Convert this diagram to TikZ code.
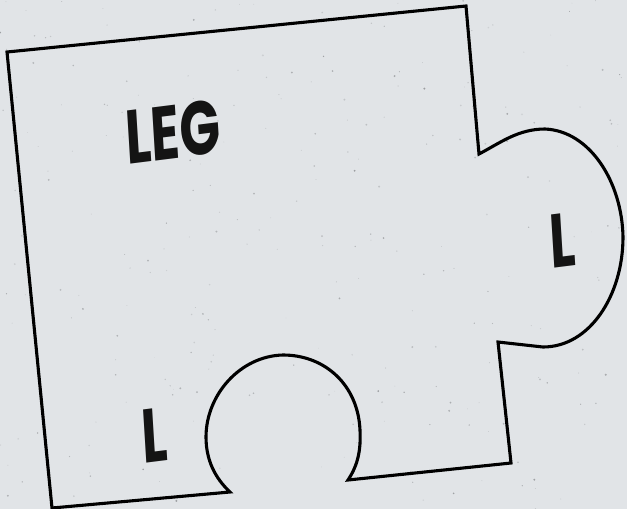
\documentclass[tikz,border=0pt]{standalone}
\usepackage{fontspec}
\newfontfamily\hand{Poppins}
\definecolor{paper}{RGB}{225,228,231}
\definecolor{speck}{RGB}{110,112,115}
\tikzset{
  piece/.style={draw=black, line width=3.1pt, line join=miter},
  lbl/.style={font=\hand\bfseries\fontsize{76}{76}\selectfont, inner sep=0pt, xscale=0.7, rotate=5, text=black!92}
}
\begin{document}
\begin{tikzpicture}[x=1pt,y=-1pt]
\fill[paper] (0,0) rectangle (627,509);
\useasboundingbox (0,0) rectangle (627,509);
% paper specks
\pgfmathsetseed{11}
\foreach \i in {1,...,260}{
  \pgfmathsetmacro{\px}{rnd*627}
  \pgfmathsetmacro{\py}{rnd*509}
  \pgfmathsetmacro{\pr}{0.3+rnd*0.8}
  \pgfmathsetmacro{\po}{0.15+rnd*0.45}
  \fill[speck, opacity=\po] (\px,\py) circle[radius=\pr];
}
% puzzle piece outline
\draw[piece] (7,52) -- (466,6) -- (479,154)
  .. controls (500,143) and (518,129) .. (545,129)
  .. controls (590,131) and (622,182) .. (623,237)
  .. controls (623,295) and (590,347) .. (543,347)
  -- (498,342) -- (511,463) -- (348,480)
  .. controls (358,465) and (361,450) .. (360,430)
  .. controls (358,385) and (325,355) .. (283,355)
  .. controls (240,356) and (206,395) .. (206,437)
  .. controls (206,460) and (215,478) .. (230,492)
  -- (52,508) -- cycle;
% labels
\node[lbl] (leg) at (173,132) {LEG};
\node[lbl] (ltab) at (563,240) {L};
\node[lbl] (lnotch) at (155,435) {L};
\end{tikzpicture}
\end{document}
